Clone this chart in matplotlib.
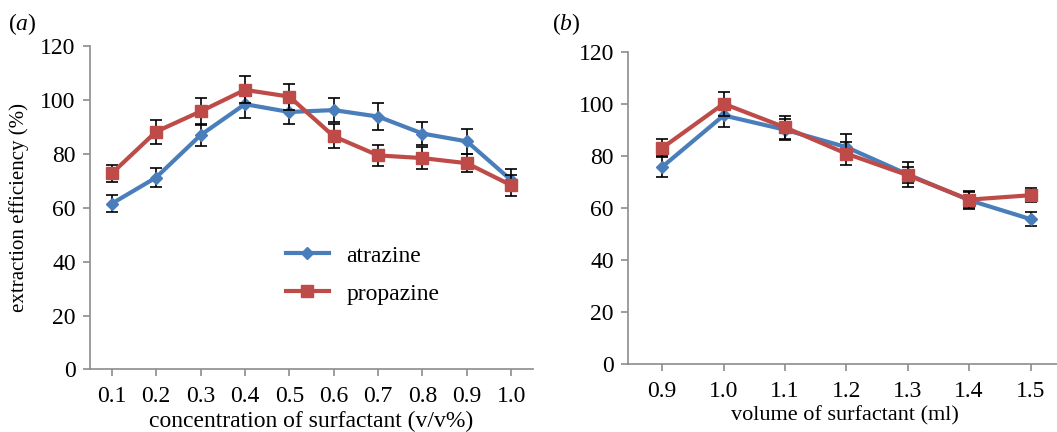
import matplotlib
matplotlib.use('Agg')
import matplotlib.pyplot as plt
import numpy as np

plt.rcParams['font.family'] = ['Liberation Serif', 'DejaVu Serif']
plt.rcParams['mathtext.fontset'] = 'custom'
plt.rcParams['mathtext.it'] = 'Liberation Serif:italic'
plt.rcParams['mathtext.rm'] = 'Liberation Serif'

# panel (a): concentration of surfactant
conc_labels = ['0.1', '0.2', '0.3', '0.4', '0.5', '0.6', '0.7', '0.8', '0.9', '1.0']
atrazine_a = [61.5, 71.2, 86.9, 98.4, 95.5, 96.2, 93.8, 87.5, 84.6, 70.2]
atrazine_a_err = [3.1, 3.4, 4.0, 5.0, 4.4, 4.5, 4.9, 4.3, 4.6, 4.0]
propazine_a = [72.7, 88.2, 95.7, 103.7, 101.2, 86.5, 79.4, 78.4, 76.5, 68.3]
propazine_a_err = [3.0, 4.5, 5.0, 5.0, 4.8, 4.4, 3.9, 4.0, 3.4, 4.0]

# panel (b): volume of surfactant
vol_labels = ['0.9', '1.0', '1.1', '1.2', '1.3', '1.4', '1.5']
atrazine_b = [75.9, 95.7, 90.2, 83.5, 73.0, 63.1, 55.8]
atrazine_b_err = [4.0, 4.5, 4.0, 5.0, 4.8, 3.0, 2.7]
propazine_b = [83.2, 100.2, 91.1, 81.0, 72.7, 63.3, 65.0]
propazine_b_err = [3.5, 4.7, 4.5, 4.5, 3.0, 3.5, 2.6]

blue = '#4A7EBB'
red = '#BE4B48'
gray = '#8c8c8c'
tick_fs = 17

fig = plt.figure(figsize=(10.57, 4.32), dpi=100)
ax1 = fig.add_axes([0.0847, 0.1447, 0.420, 0.749])
ax2 = fig.add_axes([0.594, 0.157, 0.410, 0.722])


def draw(ax, labels, a, a_err, p, p_err):
    x = np.arange(len(labels))
    ax.errorbar(x, a, yerr=a_err, color=blue, lw=3, marker='D', ms=6,
                ecolor='black', elinewidth=1.2, capsize=4, capthick=1.2,
                label='atrazine', zorder=3)
    ax.errorbar(x, p, yerr=p_err, color=red, lw=3, marker='s', ms=9,
                ecolor='black', elinewidth=1.2, capsize=4, capthick=1.2,
                label='propazine', zorder=4)
    ax.set_xticks(x)
    ax.set_xticklabels(labels)
    ax.set_ylim(0, 120)
    ax.set_yticks(range(0, 121, 20))
    for s in ['top', 'right']:
        ax.spines[s].set_visible(False)
    for s in ['left', 'bottom']:
        ax.spines[s].set_color(gray)
        ax.spines[s].set_linewidth(1.2)
    ax.tick_params(axis='both', colors=gray, labelcolor='black', labelsize=tick_fs,
                   length=5, width=1.2, direction='out')
    ax.tick_params(axis='x', pad=7)
    ax.tick_params(axis='y', pad=5)


draw(ax1, conc_labels, atrazine_a, atrazine_a_err, propazine_a, propazine_a_err)
ax1.set_xlim(-0.5, 9.5)
ax1.set_xlabel('concentration of surfactant (v/v%)', fontsize=17, labelpad=3)
ax1.set_ylabel('extraction efficiency (%)', fontsize=15, labelpad=8)
h, l = ax1.get_legend_handles_labels()
h = [hh[0] for hh in h]
ax1.legend(h, l, loc='upper left', bbox_to_anchor=(0.395, 0.45), frameon=False,
           fontsize=17, handlelength=1.8, handletextpad=0.75, labelspacing=0.7)

draw(ax2, vol_labels, atrazine_b, atrazine_b_err, propazine_b, propazine_b_err)
ax2.set_xlim(-0.56, 6.5)
ax2.set_xlabel('volume of surfactant (ml)', fontsize=16, labelpad=3)

fig.text(0.008, 0.93, r'($\it{a}$)', fontsize=17)
fig.text(0.522, 0.93, r'($\it{b}$)', fontsize=17)

fig.savefig('out.png', dpi=100)
